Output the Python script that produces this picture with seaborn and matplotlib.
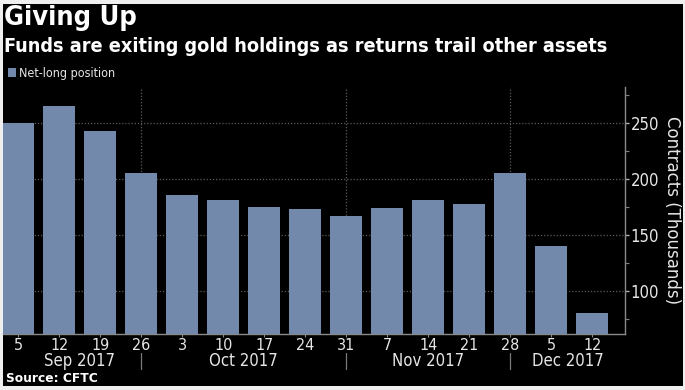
import matplotlib
matplotlib.use("Agg")
import matplotlib.pyplot as plt
import seaborn as sns
import pandas as pd
from matplotlib import font_manager as fm
from matplotlib.ticker import FixedLocator

# ---- data ----
dates = ["2017-09-05", "2017-09-12", "2017-09-19", "2017-09-26", "2017-10-03",
         "2017-10-10", "2017-10-17", "2017-10-24", "2017-10-31", "2017-11-07",
         "2017-11-14", "2017-11-21", "2017-11-28", "2017-12-05", "2017-12-12"]
day_labels = ["5", "12", "19", "26", "3", "10", "17", "24", "31", "7", "14", "21", "28", "5", "12"]
net_long = [250, 265.5, 243, 205, 186, 181, 175.5, 173.5, 167, 174, 181, 177.5, 205, 140, 80.5]
month_labels = ["Sep 2017", "Oct 2017", "Nov 2017", "Dec 2017"]
month_bounds = [3, 8, 12]          # bar index where each month separator sits
y_ticks = [100, 150, 200, 250]

df = pd.DataFrame({"date": dates, "value": net_long})

# ---- fonts ----
cond = None
for f in fm.fontManager.ttflist:
    if "DejaVuSansCondensed" in f.fname.replace("-", ""):
        cond = "DejaVu Sans"
        break
names = {f.name for f in fm.fontManager.ttflist}
if cond is None and "Liberation Sans Narrow" in names:
    cond = "Liberation Sans Narrow"
if cond is None:
    cond = "DejaVu Sans"

sns.set_theme(style="dark")
plt.rcParams["font.family"] = [cond, "DejaVu Sans"]
plt.rcParams["font.stretch"] = "condensed"

BG = "#000000"
BAR = "#7389AC"
GRID = "#5a5a5a"
FG = "#e6e6e6"

fig = plt.figure(figsize=(6.85, 3.9), dpi=100)
fig.patch.set_facecolor("#efefef")
fig.add_artist(plt.Rectangle((3 / 685, 4 / 390), (683 - 3) / 685, (386 - 4) / 390,
                             transform=fig.transFigure, facecolor=BG, edgecolor="none", zorder=0))

ax = fig.add_axes([3 / 685, 1 - 334 / 390, (625 - 3) / 685, (334 - 87) / 390])
ax.set_facecolor(BG)

sns.barplot(data=df, x="date", y="value", order=dates, color=BAR, saturation=1,
            width=0.77, ax=ax, zorder=3, edgecolor="none")

ax.set_xlim(-0.37, 14.8)
ax.set_ylim(62, 282)

for v in y_ticks:
    ax.axhline(v, color=GRID, lw=0.9, ls=(0, (1, 1.5)), zorder=1)
for b in month_bounds:
    ax.axvline(b, color=GRID, lw=0.9, ls=(0, (1, 1.5)), zorder=1)

for s in ["top", "left"]:
    ax.spines[s].set_visible(False)
for s in ["right", "bottom"]:
    ax.spines[s].set_visible(True)
    ax.spines[s].set_color("#8a8a8a")
    ax.spines[s].set_linewidth(1.0)

ax.yaxis.tick_right()
ax.yaxis.set_label_position("right")
ax.yaxis.set_major_locator(FixedLocator(y_ticks))
ax.yaxis.set_minor_locator(FixedLocator([75, 125, 175, 225, 275]))
ax.tick_params(axis="y", which="major", colors="#b0b0b0", length=3, width=1,
               labelcolor=FG, labelsize=12, pad=1, direction="out", right=True, left=False)
ax.tick_params(axis="y", which="minor", colors="#808080", length=3, width=0.8,
               right=True, left=False)
ax.set_ylabel("Contracts (Thousands)", color=FG, fontsize=12, rotation=270,
              labelpad=16, fontstretch="normal")

ax.set_xticks(range(len(dates)))
ax.set_xticklabels(day_labels)
ax.tick_params(axis="x", colors="#8a8a8a", length=2, width=0.8, labelcolor=FG,
               labelsize=11.5, pad=1, bottom=True)
ax.set_xlabel("")

trans = ax.get_xaxis_transform()
starts = [0] + month_bounds
ends = month_bounds + [14.8]
for lab, s0, e0 in zip(month_labels, starts, ends):
    ax.text((s0 + e0) / 2, -(366 - 334) / 247, lab, transform=trans, ha="center",
            va="baseline", color=FG, fontsize=12, clip_on=False)
for b in month_bounds:
    ax.plot([b, b], [-(353 - 334) / 247, -(369 - 334) / 247], transform=trans,
            color="#7a7a7a", lw=0.9, clip_on=False)

fig.text(4 / 685, 1 - 18 / 390, "Giving Up", color="white", fontsize=19.5,
         fontweight="bold", va="center", ha="left")
fig.text(4 / 685, 1 - 46 / 390, "Funds are exiting gold holdings as returns trail other assets",
         color="white", fontsize=14.2, fontweight="bold", va="center", ha="left")
fig.add_artist(plt.Rectangle((8 / 685, 1 - 77 / 390), 8 / 685, 9 / 390,
                             transform=fig.transFigure, facecolor=BAR, edgecolor="none"))
fig.text(19 / 685, 1 - 73 / 390, "Net-long position", color=FG, fontsize=9,
         va="center", ha="left")
fig.text(6 / 685, 1 - 379 / 390, "Source: CFTC", color="white", fontsize=8.8,
         fontweight="bold", va="center", ha="left", fontstretch="normal")

fig.savefig("out.png", dpi=100, facecolor=fig.get_facecolor())
